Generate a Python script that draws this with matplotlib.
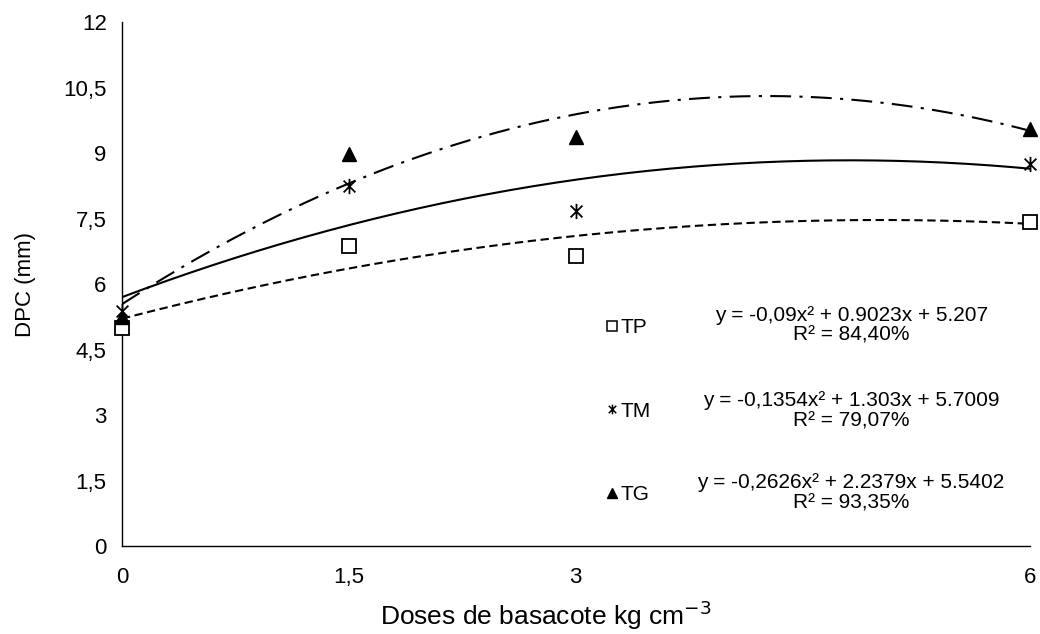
import matplotlib
matplotlib.use("Agg")
import matplotlib.pyplot as plt
import numpy as np
from matplotlib.path import Path
from matplotlib.lines import Line2D

plt.rcParams['font.family'] = ['Liberation Sans', 'DejaVu Sans']

# data
doses = [0, 1.5, 3, 6]
tp = [5.0, 6.87, 6.64, 7.43]
tm = [5.38, 8.25, 7.68, 8.76]
tg = [5.24, 8.97, 9.36, 9.56]

# trendline coefficients (a, b, c) for y = a x^2 + b x + c
coef_tp = [-0.09, 0.9023, 5.207]
coef_tm = [-0.1354, 1.303, 5.7009]
coef_tg = [-0.2626, 2.2379, 5.5402]

eq_tp = "y = -0,09x² + 0.9023x + 5.207\nR² = 84,40%"
eq_tm = "y = -0,1354x² + 1.303x + 5.7009\nR² = 79,07%"
eq_tg = "y = -0,2626x² + 2.2379x + 5.5402\nR² = 93,35%"

xticks = [0, 1.5, 3, 6]
xticklabels = ["0", "1,5", "3", "6"]
yticks = [0, 1.5, 3, 4.5, 6, 7.5, 9, 10.5, 12]
yticklabels = ["0", "1,5", "3", "4,5", "6", "7,5", "9", "10,5", "12"]

# asterisk marker like excel: x with a vertical bar
star = Path([(-1, -1), (1, 1), (-1, 1), (1, -1), (0, -1.3), (0, 1.3)],
            [Path.MOVETO, Path.LINETO] * 3)

fig = plt.figure(figsize=(10.4, 6.34), dpi=100)
ax = fig.add_axes([0.1173, 0.1388, 0.8727, 0.8262])

xs = np.linspace(0, 6, 200)
ax.plot(xs, np.polyval(coef_tp, xs), color='black', lw=1.5, dashes=(4, 2.2))
ax.plot(xs, np.polyval(coef_tm, xs), color='black', lw=1.5)
ax.plot(xs, np.polyval(coef_tg, xs), color='black', lw=1.5, dashes=(10, 4, 1.5, 4))

ax.plot(doses, tp, ls='none', marker='s', ms=10, mfc='white', mec='black', mew=1.3, clip_on=False, zorder=5)
ax.plot(doses, tm, ls='none', marker=star, ms=11, mec='black', mew=1.3, clip_on=False, zorder=5)
ax.plot(doses, tg, ls='none', marker='^', ms=10, mfc='black', mec='black', clip_on=False, zorder=5)

handles = [
    Line2D([], [], ls='none', marker='s', ms=7, mfc='white', mec='black', mew=1.1),
    Line2D([], [], ls='none', marker=star, ms=7, mec='black', mew=1.1),
    Line2D([], [], ls='none', marker='^', ms=7, mfc='black', mec='black'),
]
ax.legend(handles, ["TP", "TM", "TG"], loc='upper left', bbox_to_anchor=(0.521, 0.455),
          frameon=False, fontsize=15, handlelength=0.6, handletextpad=0.15,
          labelspacing=3.1, borderpad=0)

for eq, yy in zip([eq_tp, eq_tm, eq_tg], [5.06, 3.1, 1.22]):
    ax.text(4.82, yy, eq, ha='center', va='center', fontsize=15, linespacing=1.05)

ax.set_xlim(0, 6)
ax.set_ylim(0, 12)
ax.set_xticks(xticks)
ax.set_xticklabels(xticklabels)
ax.set_yticks(yticks)
ax.set_yticklabels(yticklabels)
ax.tick_params(axis='both', length=0, labelsize=16)
ax.tick_params(axis='x', pad=15)
ax.tick_params(axis='y', pad=11)
for s in ['top', 'right']:
    ax.spines[s].set_visible(False)
for s in ['left', 'bottom']:
    ax.spines[s].set_linewidth(1.0)

ax.set_xlabel("Doses de basacote kg cm$^{-3}$", fontsize=19)
ax.xaxis.set_label_coords(0.467, -0.1)
ax.set_ylabel("DPC (mm)", fontsize=16)
ax.yaxis.set_label_coords(-0.095, 0.50)

fig.savefig("out.png", dpi=100)
